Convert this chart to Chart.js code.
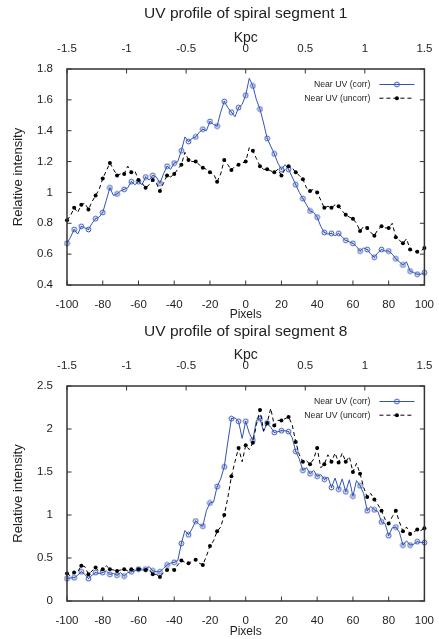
<!DOCTYPE html>
<html>
<head>
<meta charset="utf-8">
<script src="https://cdn.jsdelivr.net/npm/chart.js@4.4.0/dist/chart.umd.min.js"></script>
<style>
  html, body { margin: 0; padding: 0; background: #fff; }
  canvas { display: block; }
</style>
</head>
<body>
<canvas id="seg1" width="439" height="322"></canvas>
<canvas id="seg8" width="439" height="317"></canvas>
<script>
// pixel offsets along the profile (every 2 px)
const pixels = [-100,-98,-96,-94,-92,-90,-88,-86,-84,-82,-80,-78,-76,-74,-72,-70,-68,-66,-64,-62,
  -60,-58,-56,-54,-52,-50,-48,-46,-44,-42,-40,-38,-36,-34,-32,-30,-28,-26,-24,-22,
  -20,-18,-16,-14,-12,-10,-8,-6,-4,-2,0,2,4,6,8,10,12,14,16,18,
  20,22,24,26,28,30,32,34,36,38,40,42,44,46,48,50,52,54,56,58,
  60,62,64,66,68,70,72,74,76,78,80,82,84,86,88,90,92,94,96,98,100];

const seg1Corr = [0.67,0.71,0.76,0.73,0.78,0.77,0.76,0.80,0.83,0.84,
  0.87,0.95,1.03,0.98,0.99,1.01,1.02,1.03,1.07,1.05,
  1.07,1.05,1.10,1.08,1.11,1.10,1.06,1.12,1.17,1.15,
  1.19,1.20,1.27,1.36,1.33,1.35,1.36,1.39,1.41,1.40,
  1.46,1.44,1.43,1.52,1.59,1.55,1.52,1.49,1.55,1.57,
  1.63,1.74,1.69,1.60,1.54,1.45,1.35,1.30,1.25,1.19,
  1.15,1.18,1.15,1.10,1.05,1.00,0.96,0.92,0.88,0.87,
  0.84,0.78,0.74,0.73,0.735,0.72,0.735,0.71,0.69,0.68,
  0.67,0.65,0.62,0.64,0.63,0.60,0.58,0.61,0.63,0.62,
  0.62,0.60,0.57,0.55,0.53,0.55,0.49,0.48,0.47,0.47,0.48];

const seg1Uncorr = [0.82,0.85,0.90,0.87,0.92,0.93,0.89,0.94,0.98,1.02,
  1.09,1.14,1.19,1.15,1.11,1.12,1.12,1.17,1.13,1.14,
  1.08,1.06,1.03,1.05,1.08,1.06,1.01,1.06,1.11,1.10,
  1.12,1.15,1.18,1.26,1.21,1.20,1.20,1.18,1.16,1.15,
  1.13,1.12,1.07,1.12,1.21,1.18,1.145,1.17,1.18,1.19,
  1.20,1.29,1.27,1.22,1.17,1.15,1.15,1.14,1.13,1.15,
  1.11,1.15,1.17,1.16,1.13,1.11,1.085,1.03,1.01,1.02,
  1.00,0.95,0.90,0.91,0.90,0.92,0.91,0.88,0.855,0.84,
  0.83,0.80,0.75,0.78,0.77,0.74,0.72,0.76,0.78,0.77,
  0.77,0.80,0.71,0.69,0.67,0.70,0.63,0.62,0.615,0.62,0.64];

const seg8Corr = [0.26,0.27,0.27,0.30,0.34,0.31,0.26,0.30,0.33,0.32,
  0.33,0.35,0.31,0.32,0.30,0.33,0.29,0.33,0.34,0.35,
  0.37,0.36,0.37,0.40,0.35,0.34,0.34,0.38,0.42,0.44,
  0.45,0.47,0.67,0.82,0.77,0.84,0.93,0.89,0.87,1.05,
  1.14,1.15,1.33,1.42,1.56,1.85,2.12,2.13,2.09,1.89,
  2.09,1.95,1.87,2.10,2.12,1.97,2.07,2.02,1.96,1.97,
  1.98,1.98,1.97,1.90,1.74,1.65,1.52,1.55,1.48,1.52,
  1.45,1.47,1.415,1.44,1.32,1.43,1.30,1.42,1.27,1.41,
  1.22,1.40,1.34,1.25,1.05,1.10,1.06,1.04,0.92,0.90,
  0.76,0.85,0.86,0.80,0.65,0.70,0.65,0.66,0.69,0.68,0.68];

const seg8Uncorr = [0.32,0.29,0.33,0.34,0.41,0.40,0.31,0.35,0.39,0.34,
  0.37,0.41,0.37,0.36,0.35,0.36,0.37,0.35,0.37,0.36,
  0.37,0.38,0.36,0.37,0.31,0.31,0.28,0.33,0.36,0.38,
  0.36,0.42,0.47,0.45,0.44,0.46,0.48,0.44,0.42,0.52,
  0.64,0.70,0.81,0.86,1.00,1.20,1.45,1.62,1.78,1.62,
  1.81,1.76,1.84,2.05,2.22,1.98,2.07,2.24,2.04,2.10,
  2.10,2.12,2.14,2.05,1.85,1.70,1.62,1.63,1.59,1.65,
  1.78,1.55,1.59,1.70,1.62,1.72,1.61,1.72,1.62,1.68,
  1.50,1.60,1.48,1.32,1.21,1.25,1.18,1.12,1.05,0.95,
  0.90,0.98,1.05,0.92,0.81,0.86,0.78,0.80,0.83,0.82,0.845];

const pixelTicks = [-100,-80,-60,-40,-20,0,20,40,60,80,100];
const kpcTicks = [-1.5,-1,-0.5,0,0.5,1,1.5];
const seg1YTicks = [0.4,0.6,0.8,1,1.2,1.4,1.6,1.8];
const seg8YTicks = [0,0.5,1,1.5,2,2.5];

const FONT = '"Liberation Sans", Arial, Helvetica, sans-serif';
const TEXT = '#1e1e1e';
const BLUE = 'rgb(52, 84, 182)';

function ringDot(color) {
  const c = document.createElement('canvas');
  c.width = 7; c.height = 7;
  const g = c.getContext('2d');
  g.strokeStyle = color; g.lineWidth = 1;
  g.beginPath(); g.arc(3.5, 3.5, 2.4, 0, Math.PI * 2); g.stroke();
  g.fillStyle = color;
  g.beginPath(); g.arc(3.5, 3.5, 0.8, 0, Math.PI * 2); g.fill();
  return c;
}
const ringImg = ringDot(BLUE);

const onMarker = (ctx) => ctx.dataIndex % 2 === 0;
const plainNum = (v) => String(Number(Number(v).toFixed(2)));

// box round the plot and the inward tick marks
const frame = {
  id: 'frame',
  afterDraw(chart) {
    const { ctx, chartArea: a, scales } = chart;
    const len = 4.5;
    ctx.save();
    ctx.strokeStyle = '#333';
    ctx.lineWidth = 1;
    ctx.beginPath();
    for (const t of scales.x.ticks) {
      const px = scales.x.getPixelForValue(t.value);
      ctx.moveTo(px, a.bottom); ctx.lineTo(px, a.bottom - len);
    }
    for (const t of scales.x2.ticks) {
      const px = scales.x2.getPixelForValue(t.value);
      ctx.moveTo(px, a.top); ctx.lineTo(px, a.top + len);
    }
    for (const t of scales.y.ticks) {
      const py = scales.y.getPixelForValue(t.value);
      ctx.moveTo(a.left, py); ctx.lineTo(a.left + len, py);
      ctx.moveTo(a.right, py); ctx.lineTo(a.right - len, py);
    }
    ctx.stroke();
    ctx.lineWidth = 1.5;
    ctx.strokeRect(a.left, a.top, a.right - a.left, a.bottom - a.top);
    ctx.restore();
  }
};

const heading = {
  id: 'heading',
  afterDraw(chart, args, opts) {
    const { ctx, chartArea: a } = chart;
    ctx.save();
    ctx.font = '15.5px ' + FONT;
    ctx.fillStyle = TEXT;
    ctx.textAlign = 'center';
    ctx.textBaseline = 'middle';
    ctx.fillText(opts.text, (a.left + a.right) / 2, opts.y);
    ctx.restore();
  }
};

// gnuplot style key: text, then line sample with a marker
const key = {
  id: 'key',
  afterDraw(chart) {
    const { ctx, chartArea: a } = chart;
    ctx.save();
    ctx.font = '8.7px ' + FONT;
    ctx.fillStyle = TEXT;
    ctx.textAlign = 'right';
    ctx.textBaseline = 'middle';
    chart.data.datasets.forEach((ds, i) => {
      const y = a.top + 15.5 + i * 13.7;
      ctx.fillText(ds.label, a.right - 54, y);
      ctx.save();
      ctx.strokeStyle = ds.borderColor;
      ctx.lineWidth = 1;
      ctx.setLineDash(ds.borderDash || []);
      ctx.beginPath();
      ctx.moveTo(a.right - 45, y); ctx.lineTo(a.right - 10, y);
      ctx.stroke();
      ctx.restore();
      const mx = a.right - 27.5;
      if (ds.keyMarker === 'ring') {
        ctx.drawImage(ringImg, mx - 3.5, y - 3.5);
      } else {
        ctx.save();
        ctx.fillStyle = ds.borderColor;
        ctx.beginPath(); ctx.arc(mx, y, 2, 0, Math.PI * 2); ctx.fill();
        ctx.restore();
      }
    });
    ctx.restore();
  }
};

function toPoints(vals) {
  return pixels.map((p, i) => ({ x: p, y: vals[i] }));
}

function drawProfile(id, cfg) {
  const tickFont = { family: FONT, size: 11.5 };
  return new Chart(document.getElementById(id), {
    type: 'line',
    data: {
      datasets: [
        {
          label: 'Near UV (corr)',
          data: toPoints(cfg.corr),
          borderColor: BLUE,
          borderWidth: 1,
          tension: 0,
          pointStyle: (c) => onMarker(c) ? ringImg : 'circle',
          pointRadius: (c) => onMarker(c) ? 3 : 0,
          keyMarker: 'ring',
          clip: 6,
          order: 1
        },
        {
          label: 'Near UV (uncorr)',
          data: toPoints(cfg.uncorr),
          borderColor: '#000',
          borderWidth: 1,
          borderDash: [4, 3],
          tension: 0,
          pointStyle: 'circle',
          pointRadius: (c) => onMarker(c) ? 2 : 0,
          pointBackgroundColor: '#000',
          pointBorderWidth: 0,
          keyMarker: 'dot',
          clip: 6,
          order: 0
        }
      ]
    },
    options: {
      responsive: false,
      animation: false,
      events: [],
      layout: { padding: { top: 0, left: 0, right: 12, bottom: 0 } },
      plugins: {
        legend: { display: false },
        tooltip: { enabled: false },
        heading: { text: cfg.title, y: cfg.titleY }
      },
      scales: {
        x: {
          type: 'linear', position: 'bottom', min: -100, max: 100,
          afterBuildTicks: (s) => { s.ticks = pixelTicks.map(v => ({ value: v })); },
          afterFit: (s) => { s.height = cfg.bottomBox; },
          grid: { display: false }, border: { display: false },
          ticks: { padding: 5, autoSkip: false, maxRotation: 0, color: TEXT, font: tickFont, callback: plainNum },
          title: { display: true, text: 'Pixels', color: TEXT, padding: { top: 0, bottom: 0 }, font: { family: FONT, size: 12 } }
        },
        x2: {
          type: 'linear', position: 'top', min: -1.5, max: 1.5,
          afterBuildTicks: (s) => { s.ticks = kpcTicks.map(v => ({ value: v })); },
          afterFit: (s) => { s.height = cfg.topBox; },
          grid: { display: false }, border: { display: false },
          ticks: { padding: 5, autoSkip: false, maxRotation: 0, color: TEXT, font: tickFont, callback: plainNum },
          title: { display: true, text: 'Kpc', color: TEXT, padding: { top: cfg.kpcPad, bottom: 0 }, font: { family: FONT, size: 14 } }
        },
        y: {
          type: 'linear', position: 'left', min: cfg.yMin, max: cfg.yMax,
          afterBuildTicks: (s) => { s.ticks = cfg.yTicks.map(v => ({ value: v })); },
          afterFit: (s) => { s.width = 67; },
          grid: { display: false }, border: { display: false },
          ticks: { padding: 6, autoSkip: false, color: TEXT, font: tickFont, callback: plainNum },
          title: { display: true, text: 'Relative intensity', color: TEXT, padding: { top: 11, bottom: 0 }, font: { family: FONT, size: 13 } }
        }
      }
    },
    plugins: [frame, heading, key]
  });
}

drawProfile('seg1', {
  title: 'UV profile of spiral segment 1', titleY: 14,
  corr: seg1Corr, uncorr: seg1Uncorr,
  yMin: 0.4, yMax: 1.8, yTicks: seg1YTicks,
  topBox: 69, bottomBox: 37, kpcPad: 30
});

drawProfile('seg8', {
  title: 'UV profile of spiral segment 8', titleY: 10,
  corr: seg8Corr, uncorr: seg8Uncorr,
  yMin: 0, yMax: 2.5, yTicks: seg8YTicks,
  topBox: 64, bottomBox: 38, kpcPad: 25
});
</script>
</body>
</html>
